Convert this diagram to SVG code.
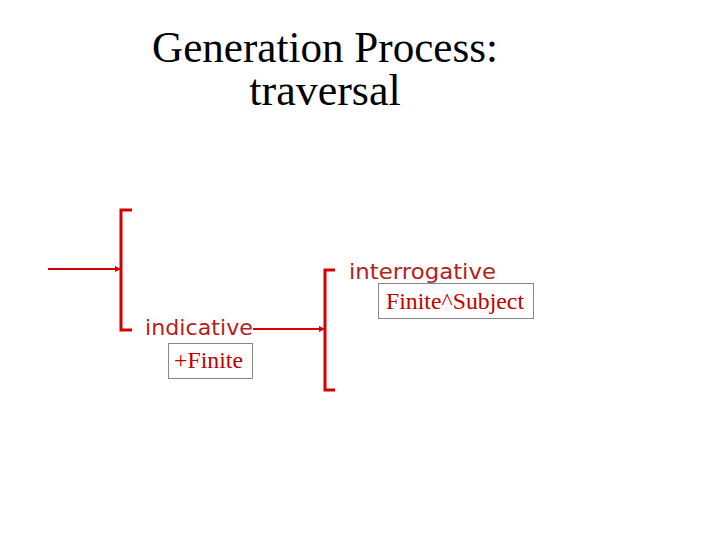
<svg xmlns="http://www.w3.org/2000/svg" width="720" height="540" viewBox="0 0 720 540">
<style>
.title{font-family:"Liberation Serif",serif;font-size:44px;fill:#000}
.lab{font-family:"DejaVu Sans",sans-serif;font-size:21px;fill:#b22222}
.box{fill:none;stroke:#888;stroke-width:1}
.btxt{font-family:"Liberation Serif",serif;font-size:23px;fill:#c00000}
.br{fill:none;stroke:#d40000;stroke-width:3}
.ln{fill:none;stroke:#d40000;stroke-width:2}
</style>
<defs>
<marker id="ah" markerWidth="6" markerHeight="6" refX="5" refY="3" orient="auto" markerUnits="userSpaceOnUse">
<path d="M0,0 L6,3 L0,6 Z" fill="#d40000"/>
</marker>
</defs>
<rect width="720" height="540" fill="#fff"/>
<g id="title">
<text class="title" x="325" y="62" text-anchor="middle" textLength="346" lengthAdjust="spacingAndGlyphs">Generation Process:</text>
<text class="title" x="325" y="105" text-anchor="middle">traversal</text>
</g>
<g id="bracket1">
<path class="br" d="M132,210 H121 V330 H132"/>
</g>
<g id="indicative">
<text class="lab" x="145" y="335" textLength="108" lengthAdjust="spacingAndGlyphs">indicative</text>
<rect class="box" x="168.5" y="343.5" width="84" height="35"/>
<text class="btxt" x="174" y="368" textLength="69" lengthAdjust="spacingAndGlyphs">+Finite</text>
</g>
<g id="bracket2">
<path class="br" d="M335,270 H325 V390 H335"/>
</g>
<g id="interrogative">
<text class="lab" x="349" y="279" textLength="147" lengthAdjust="spacingAndGlyphs">interrogative</text>
<rect class="box" x="378.5" y="283.5" width="155" height="35"/>
<text class="btxt" x="386" y="309" textLength="138" lengthAdjust="spacingAndGlyphs">Finite^Subject</text>
</g>
<g id="connectors">
<line class="ln" x1="48" y1="269" x2="120" y2="269" marker-end="url(#ah)"/>
<line class="ln" x1="253" y1="329" x2="324" y2="329" marker-end="url(#ah)"/>
</g>
</svg>
